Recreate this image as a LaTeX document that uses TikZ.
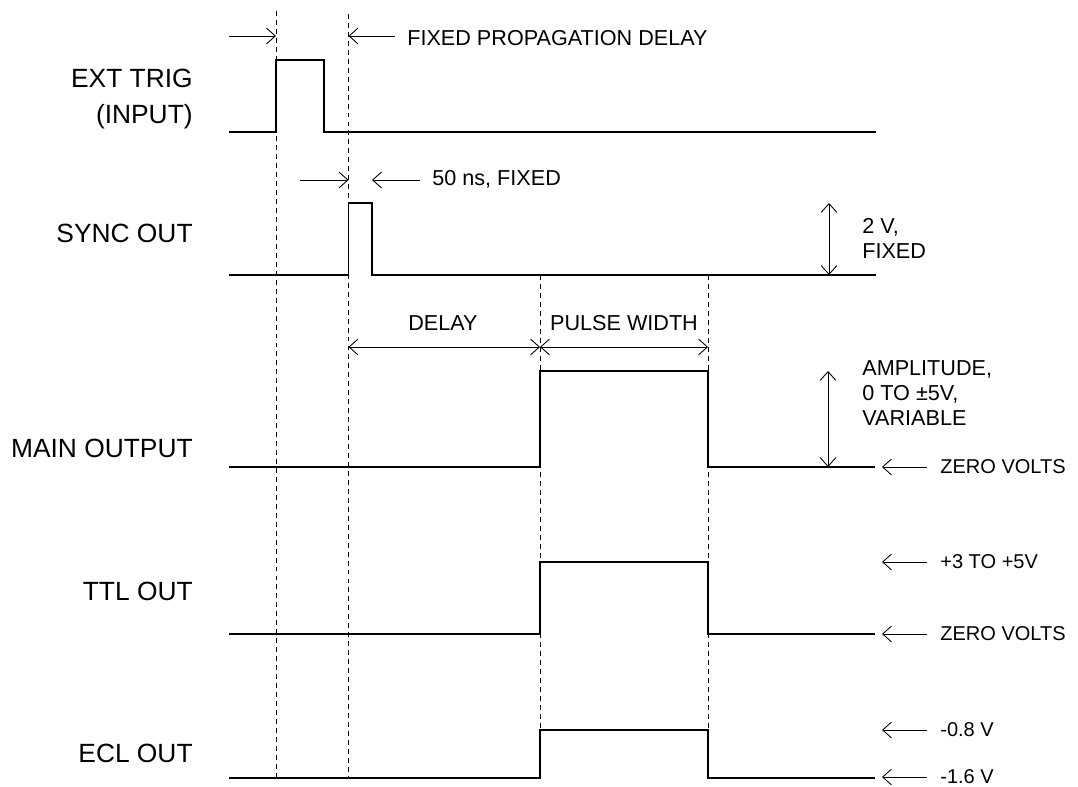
\documentclass[tikz,border=0pt]{standalone}
\usepackage{fontspec}
\setmainfont{Liberation Sans}
\usetikzlibrary{arrows.meta}
\begin{document}
\begin{tikzpicture}[x=0.02cm,y=-0.02cm,
  wave/.style={line width=0.65pt},
  guide/.style={line width=0.5pt,dash pattern=on 2.8pt off 2.3pt},
  ptr/.style={line width=0.5pt,-{Straight Barb[length=5pt,width=9pt]}},
  dim/.style={line width=0.5pt,{Straight Barb[length=5pt,width=9pt]}-{Straight Barb[length=5pt,width=9pt]}},
  sig/.style={font=\fontsize{15}{20.5}\selectfont,anchor=base east,align=right,inner sep=0pt},
  note/.style={font=\fontsize{12.3}{14.2}\selectfont,inner sep=0pt},
  levnote/.style={font=\fontsize{11.4}{13.5}\selectfont,inner sep=0pt,anchor=west}]
\useasboundingbox (0,0) rectangle (1078,787);
% time marks
\coordinate (t0) at (276,0);
\coordinate (t1) at (348.5,0);
\coordinate (t2) at (540,0);
\coordinate (t3) at (708,0);
% signal names
\node[sig] (ext) at (193,124) {EXT TRIG\\(INPUT)};
\node[sig] (sync) at (193,242) {SYNC OUT};
\node[sig] (main) at (193,457) {MAIN OUTPUT};
\node[sig] (ttl) at (193,600) {TTL OUT};
\node[sig] (ecl) at (193,762) {ECL OUT};
% guide lines
\draw[guide] (t0 |- 0,11) -- (t0 |- 0,777);
\draw[guide] (t1 |- 0,14) -- (t1 |- 0,777);
\draw[guide] (t2 |- 0,275) -- (t2 |- 0,777);
\draw[guide] (t3 |- 0,275) -- (t3 |- 0,777);
% waveforms
\draw[wave] (229,132) -| (t0 |- 0,60) -| (324,132) -- (876,132);
\draw[wave] (229,275) -| (t1 |- 0,203) -| (372,275) -- (876,275);
\draw[wave] (229,467) -| (t2 |- 0,371) -| (t3 |- 0,467) -- (875,467);
\draw[wave] (229,634) -| (t2 |- 0,562) -| (t3 |- 0,634) -- (875,634);
\draw[wave] (229,778) -| (t2 |- 0,730) -| (t3 |- 0,778) -- (875,778);
% timing
\draw[ptr] (229,36) -- (t0 |- 0,36);
\draw[ptr] (395,36) -- (t1 |- 0,36);
\node[note,anchor=base west] (prop) at (407,45.5) {FIXED PROPAGATION DELAY};
\draw[ptr] (300,180) -- (t1 |- 0,180);
\draw[ptr] (420,180) -- (372,180);
\node[note,anchor=base west] (fifty) at (432,185.5) {50 ns, FIXED};
\draw[dim] (t1 |- 0,347) -- (t2 |- 0,347);
\draw[dim] (t2 |- 0,347) -- (t3 |- 0,347);
\node[note,anchor=base] (dly) at (443,330) {DELAY};
\node[note,anchor=base] (pw) at (624,330) {PULSE WIDTH};
% levels
\draw[dim] (829,203) -- (829,275);
\node[note,anchor=base west,align=left] (twov) at (862,258) {2 V,\\FIXED};
\draw[dim] (828,371) -- (828,467);
\node[note,anchor=base west,align=left] (amp) at (862,425) {AMPLITUDE,\\0 TO ±5V,\\VARIABLE};
\foreach \lev/\txt [count=\i] in {467/ZERO VOLTS,562/+3 TO +5V,634/ZERO VOLTS,730/-0.8 V,777/-1.6 V}{
  \draw[ptr] (927,\lev) -- (882,\lev);
  \node[levnote] (lev\i) at (940,\lev) {\txt};
}
\end{tikzpicture}
\end{document}
